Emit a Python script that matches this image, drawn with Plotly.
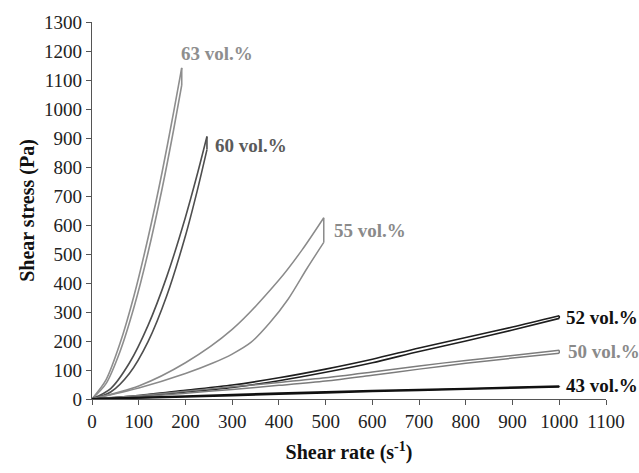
import plotly.graph_objects as go

# ---- data (shear rate in 1/s, shear stress in Pa) ----
# each suspension shows a hysteresis loop: branch A (upper) and branch B (lower)
c63_ax = [0, 30, 60, 90, 120, 150, 175, 192]
c63_ay = [0, 66, 192, 357, 556, 782, 992, 1142]
c63_bx = [0, 30, 60, 90, 120, 150, 175, 192]
c63_by = [0, 53, 164, 317, 505, 725, 931, 1082]

c60_ax = [0, 40, 80, 120, 160, 200, 225, 246]
c60_ay = [0, 36, 124, 254, 422, 627, 773, 905]
c60_bx = [0, 40, 80, 120, 160, 200, 225, 246]
c60_by = [0, 24, 88, 198, 356, 563, 717, 860]

c55_ax = [0, 100, 200, 300, 400, 450, 496]
c55_ay = [0, 45, 125, 240, 410, 515, 625]
c55_bx = [0, 100, 200, 260, 300, 340, 380, 420, 460, 496]
c55_by = [0, 38, 88, 125, 155, 195, 262, 345, 450, 540]

c52_ax = [0, 100, 200, 300, 400, 500, 600, 700, 800, 900, 1000]
c52_ay = [0, 12, 30, 48, 73, 103, 137, 176, 212, 248, 287]
c52_bx = [0, 100, 200, 300, 400, 500, 600, 700, 800, 900, 1000]
c52_by = [0, 9, 24, 40, 63, 92, 125, 164, 200, 238, 278]

c50_ax = [0, 100, 200, 300, 400, 500, 600, 700, 800, 900, 1000]
c50_ay = [0, 12, 27, 42, 57, 73, 93, 114, 133, 150, 168]
c50_bx = [0, 100, 200, 300, 400, 500, 600, 700, 800, 900, 1000]
c50_by = [0, 8, 20, 33, 47, 62, 82, 103, 123, 141, 158]

c43_ax = [0, 200, 400, 600, 800, 1000]
c43_ay = [0, 10, 20, 29, 36, 44]
c43_bx = [0, 200, 400, 600, 800, 1000]
c43_by = [0, 7, 17, 26, 34, 42]

labels = ["63 vol.%", "60 vol.%", "55 vol.%", "52 vol.%", "50 vol.%", "43 vol.%"]
label_x = [187, 258, 513, 1011, 1015, 1011]
label_y = [1190, 873, 580, 281, 165, 48]

x_ticks = list(range(0, 1101, 100))
y_ticks = list(range(0, 1301, 100))

SERIF = "Liberation Serif, Times New Roman, Times, serif"

series = [
    (c63_ax, c63_ay, c63_bx, c63_by, "#8e8e8e", 1.6, "#8e8e8e"),
    (c60_ax, c60_ay, c60_bx, c60_by, "#4e4e4e", 1.6, "#5a5a5a"),
    (c55_ax, c55_ay, c55_bx, c55_by, "#8a8a8a", 1.5, "#8a8a8a"),
    (c52_ax, c52_ay, c52_bx, c52_by, "#1e1e1e", 1.6, "#111111"),
    (c50_ax, c50_ay, c50_bx, c50_by, "#7c7c7c", 1.5, "#8a8a8a"),
    (c43_ax, c43_ay, c43_bx, c43_by, "#111111", 1.8, "#111111"),
]

fig = go.Figure()
for ax, ay, bx, by, col, w, _ in series:
    fig.add_trace(go.Scatter(x=ax, y=ay, mode="lines",
                             line=dict(color=col, width=w, shape="spline", smoothing=0.8),
                             hoverinfo="skip", showlegend=False, cliponaxis=False))
    fig.add_trace(go.Scatter(x=bx, y=by, mode="lines",
                             line=dict(color=col, width=w, shape="spline", smoothing=0.8),
                             hoverinfo="skip", showlegend=False, cliponaxis=False))
    # closing segment at the top of the loop
    fig.add_trace(go.Scatter(x=[ax[-1], bx[-1]], y=[ay[-1], by[-1]], mode="lines",
                             line=dict(color=col, width=w),
                             hoverinfo="skip", showlegend=False, cliponaxis=False))

for (s, lx, ly, txt) in zip(series, label_x, label_y, labels):
    fig.add_annotation(x=lx, y=ly, xref="x", yref="y", text="<b>%s</b>" % txt,
                       showarrow=False, xanchor="left", yanchor="middle",
                       font=dict(family=SERIF, size=19, color=s[6]))

axis_common = dict(showgrid=False, zeroline=False, showline=True, linecolor="#555555",
                   linewidth=1.2, ticks="outside", ticklen=5, tickcolor="#555555",
                   tickwidth=1.2,
                   tickfont=dict(family=SERIF, size=19, color="#222222"))

fig.update_xaxes(range=[0, 1100], tickvals=x_ticks, ticktext=[str(v) for v in x_ticks],
                 title=dict(text="<b>Shear rate (s<sup>-1</sup>)</b>", standoff=14,
                            font=dict(family=SERIF, size=20, color="#111111")),
                 **axis_common)
fig.update_yaxes(range=[0, 1300], tickvals=y_ticks, ticktext=[str(v) for v in y_ticks],
                 title=dict(text="<b>Shear stress (Pa)</b>", standoff=4,
                            font=dict(family=SERIF, size=20, color="#111111")),
                 **axis_common)

fig.update_layout(width=639, height=473, plot_bgcolor="white", paper_bgcolor="white",
                  font=dict(family=SERIF),
                  margin=dict(l=92, r=33, t=16, b=74), showlegend=False)

fig.write_html("out.html", config={"displayModeBar": False},
               post_script="document.body.style.margin='0px';document.body.style.overflow='hidden';")
